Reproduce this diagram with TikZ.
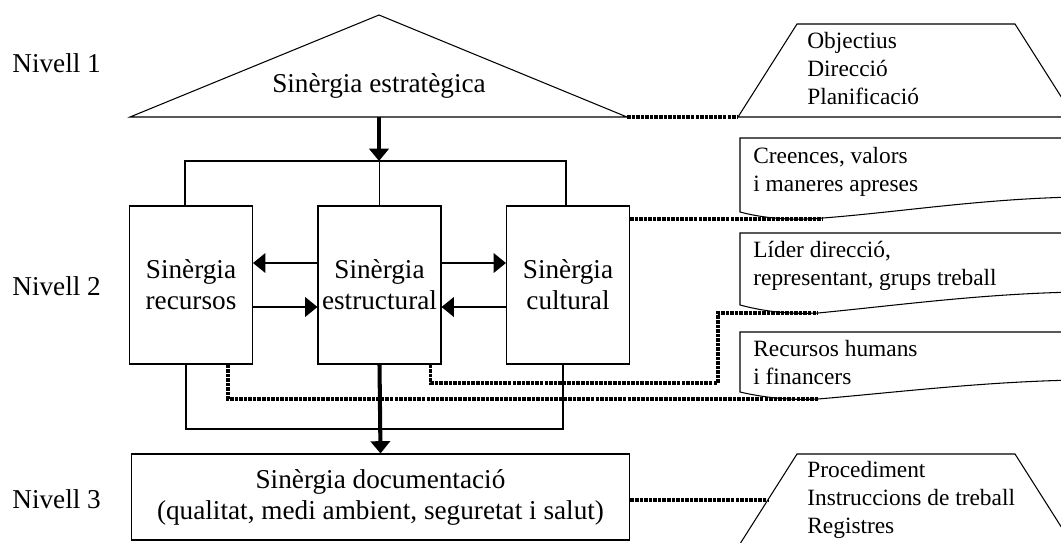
\documentclass[tikz,border=0pt]{standalone}
\usepackage{fontspec}
\setmainfont{Liberation Serif}
\usetikzlibrary{arrows.meta,positioning}

\tikzset{
  caixa/.style={draw, line width=0.6pt, rectangle, minimum width=2.46cm, minimum height=3.16cm, align=center, inner sep=0pt, font=\fontsize{15.5}{17.6}\selectfont},
  nota/.style={anchor=north west, align=left, inner sep=0pt, font=\fontsize{13.3}{15.9}\selectfont},
  nivell/.style={anchor=base west, inner sep=0pt, font=\fontsize{15.5}{17.6}\selectfont},
  fina/.style={line width=0.6pt},
  puntejat/.style={line width=2pt, dash pattern=on 2pt off 0.6pt},
  gruixuda/.style={line width=2.3pt, -{Triangle[length=7pt,width=11pt]}},
  mitjana/.style={line width=1.4pt, -{Triangle[length=7pt,width=11pt]}},
}

\begin{document}
\begin{tikzpicture}[x=0.02cm, y=-0.02cm]
\useasboundingbox (0,0) rectangle (1061,542);
\clip (0,0) rectangle (1061,542);

% nivells
\node[nivell] (n_1) at (12,72) {Nivell 1};
\node[nivell] (n_2) at (12,295) {Nivell 2};
\node[nivell] (n_3) at (12,508) {Nivell 3};

% nivell 1
\draw[fina] (130,117) -- (379,15) -- (627,117) -- cycle;
\coordinate (tri_b) at (379,117);
\coordinate (tri_r) at (627,117);
\node[anchor=base, inner sep=0pt, font=\fontsize{15.5}{17.6}\selectfont] (s_est) at (379,92) {Sinèrgia estratègica};

% nivell 2
\node[caixa] (rec) at (191,285) {Sinèrgia\\recursos};
\node[caixa] (est) at (379.5,285) {Sinèrgia\\estructural};
\node[caixa] (cul) at (568,285) {Sinèrgia\\cultural};

% nivell 3
\node[caixa, minimum width=9.98cm, minimum height=1.72cm] (doc) at (380.5,497) {Sinèrgia documentació\\(qualitat, medi ambient, seguretat i salut)};

% marc
\coordinate (m_tl) at (185,161);
\coordinate (m_tr) at (566,161);
\coordinate (m_bl) at (186,429);
\coordinate (m_br) at (563,429);
\draw[fina] (rec.north -| m_tl) -- (m_tl) -- (m_tr) -- (cul.north -| m_tr);
\draw[fina] (est.north) -- (est.north |- m_tl);
\draw[fina] (rec.south -| m_bl) -- (m_bl) -- (m_br) -- (cul.south -| m_br);

\draw[gruixuda] (tri_b) -- (tri_b |- m_tl);
\draw[gruixuda] (est.south) -- (doc.north);

\draw[mitjana] ([yshift=0.44cm]est.west) -- ([yshift=0.44cm]rec.east);
\draw[mitjana] ([yshift=0.44cm]est.east) -- ([yshift=0.44cm]cul.west);
\draw[mitjana] ([yshift=-0.44cm]rec.east) -- ([yshift=-0.44cm]est.west);
\draw[mitjana] ([yshift=-0.44cm]cul.west) -- ([yshift=-0.44cm]est.east);

% notes
\draw[fina] (738,117) -- (797,24) -- (1015,24) -- (1074,117) -- cycle;
\coordinate (o_in) at (738,117);
\node[nota] (obj) at (807,32) {Objectius\\Direcció\\Planificació};

\draw[fina] (1075,138) -- (740,138) -- (740,212) .. controls (770,220) and (800,220) .. (823,218) .. controls (900,212) and (980,199) .. (1075,197);
\coordinate (c_dip) at (823,219);
\node[nota] (cre) at (753,147) {Creences, valors\\i maneres apreses};

\draw[fina] (1075,233) -- (740,233) -- (740,305) .. controls (770,313) and (795,314) .. (818,313) .. controls (900,305) and (980,294) .. (1075,292);
\coordinate (l_dip) at (818,313);
\node[nota] (lid) at (753,241) {Líder direcció,\\representant, grups treball};

\draw[fina] (1075,332) -- (740,332) -- (740,392) .. controls (770,399) and (795,400) .. (818,399) .. controls (900,392) and (980,382) .. (1075,380);
\coordinate (r_dip) at (818,399);
\node[nota] (rhu) at (753,340) {Recursos humans\\i financers};

\draw[fina] (738,547) -- (797,454) -- (1015,454) -- (1074,547);
\coordinate (p_in) at (768,500);
\node[nota] (pro) at (807,461) {Procediment\\Instruccions de treball\\Registres};

% punts
\draw[puntejat] (tri_r) -- (o_in);
\draw[puntejat] (cul.east |- c_dip) -- (c_dip);
\draw[puntejat] ([xshift=-0.22cm]est.south east) |- (718,383) |- (l_dip);
\draw[puntejat] ([xshift=-0.5cm]rec.south east) |- (r_dip);
\draw[puntejat] (doc.east |- p_in) -- (p_in);
\end{tikzpicture}
\end{document}
